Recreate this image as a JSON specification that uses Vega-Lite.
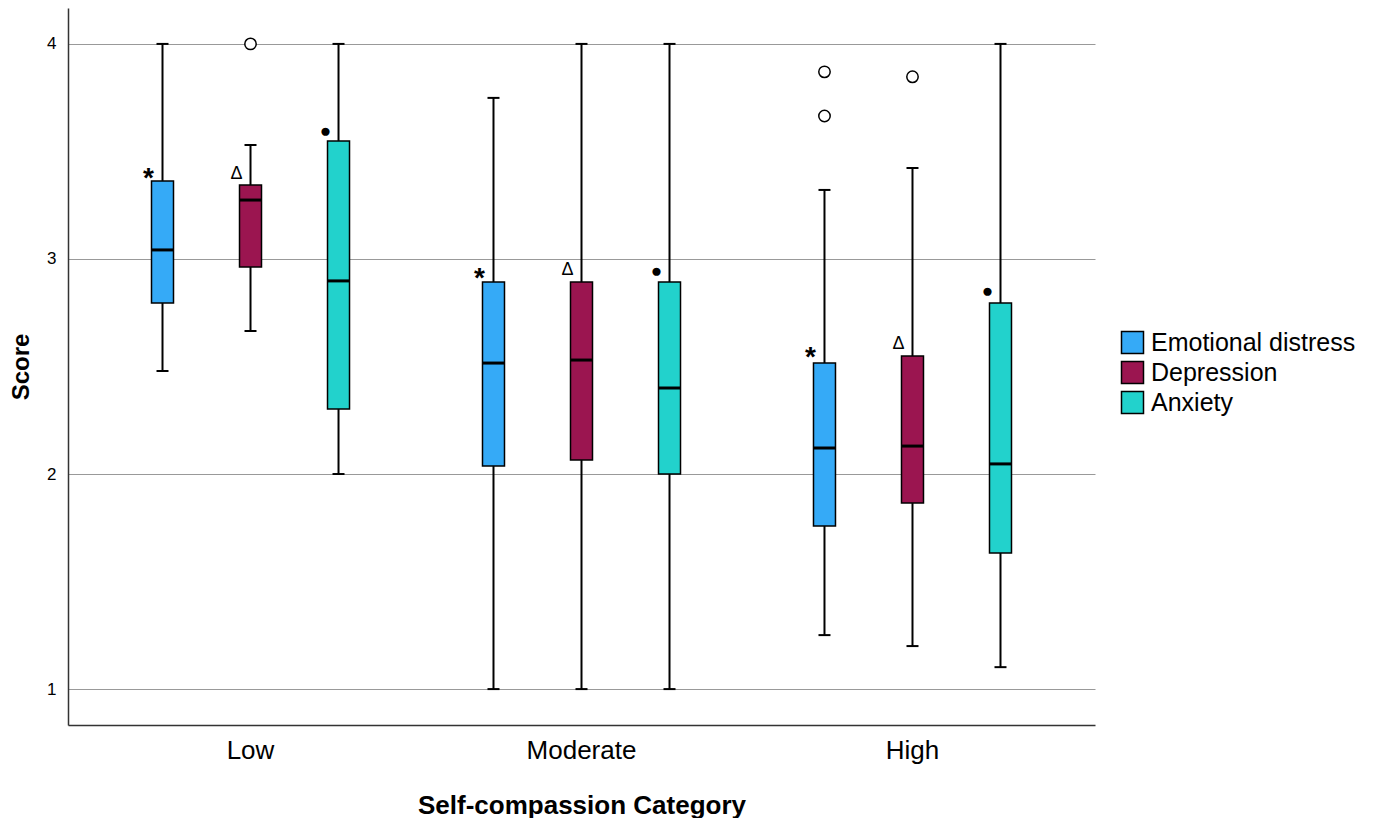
{
  "$schema": "https://vega.github.io/schema/vega-lite/v6.json",
  "width": 1027,
  "height": 717,
  "autosize": "none",
  "padding": {"left": 68, "top": 8, "right": 279, "bottom": 93},
  "background": "white",
  "config": {
    "view": {"stroke": null},
    "font": "Liberation Sans",
    "axis": {"labelColor": "black", "titleColor": "black"}
  },
  "datasets": {
    "boxes": [
      {"cat": "Low", "measure": "Emotional distress", "min": 2.479, "q1": 2.795, "median": 3.042, "q3": 3.363, "max": 4.0, "note": "*", "noteY": 3.41},
      {"cat": "Low", "measure": "Depression", "min": 2.665, "q1": 2.963, "median": 3.274, "q3": 3.344, "max": 3.53, "note": "Δ", "noteY": 3.40},
      {"cat": "Low", "measure": "Anxiety", "min": 2.0, "q1": 2.302, "median": 2.898, "q3": 3.549, "max": 4.0, "note": "●", "noteY": 3.60},
      {"cat": "Moderate", "measure": "Emotional distress", "min": 1.0, "q1": 2.037, "median": 2.516, "q3": 2.893, "max": 3.749, "note": "*", "noteY": 2.944},
      {"cat": "Moderate", "measure": "Depression", "min": 1.0, "q1": 2.065, "median": 2.53, "q3": 2.893, "max": 4.0, "note": "Δ", "noteY": 2.953},
      {"cat": "Moderate", "measure": "Anxiety", "min": 1.0, "q1": 2.0, "median": 2.40, "q3": 2.893, "max": 4.0, "note": "●", "noteY": 2.95},
      {"cat": "High", "measure": "Emotional distress", "min": 1.251, "q1": 1.758, "median": 2.121, "q3": 2.516, "max": 3.321, "note": "*", "noteY": 2.577},
      {"cat": "High", "measure": "Depression", "min": 1.20, "q1": 1.865, "median": 2.130, "q3": 2.549, "max": 3.423, "note": "Δ", "noteY": 2.61},
      {"cat": "High", "measure": "Anxiety", "min": 1.102, "q1": 1.633, "median": 2.047, "q3": 2.795, "max": 4.0, "note": "●", "noteY": 2.856}
    ],
    "outliers": [
      {"cat": "Low", "measure": "Depression", "value": 4.0},
      {"cat": "High", "measure": "Emotional distress", "value": 3.87},
      {"cat": "High", "measure": "Emotional distress", "value": 3.665},
      {"cat": "High", "measure": "Depression", "value": 3.847}
    ]
  },
  "encoding": {
    "x": {
      "field": "cat", "type": "nominal", "sort": ["Low", "Moderate", "High"],
      "scale": {"paddingInner": 0, "paddingOuter": 0.0514},
      "title": "Self-compassion Category",
      "axis": {
        "labelAngle": 0, "labelFontSize": 26, "labelPadding": 12, "ticks": false,
        "domainColor": "#333333", "domainWidth": 1.5,
        "titleFontSize": 26, "titleFontWeight": "bold", "titlePadding": 29
      }
    },
    "xOffset": {
      "field": "measure", "type": "nominal",
      "sort": ["Emotional distress", "Depression", "Anxiety"],
      "scale": {"paddingInner": 0.75, "paddingOuter": 0.7555}
    }
  },
  "layer": [
    {
      "data": {"name": "boxes"},
      "mark": {"type": "rule", "color": "black", "strokeWidth": 2},
      "encoding": {
        "y": {"field": "min", "type": "quantitative",
          "scale": {"domain": [0.833, 4.167], "nice": false, "zero": false},
          "title": "Score",
          "axis": {"values": [1, 2, 3, 4], "format": "d", "grid": true, "gridColor": "#999999", "gridWidth": 1.2,
            "ticks": false, "labelFontSize": 17, "labelPadding": 12,
            "domainColor": "#333333", "domainWidth": 1.5,
            "titleFontSize": 24, "titleFontWeight": "bold", "titlePadding": 13}},
        "y2": {"field": "q1"}
      }
    },
    {
      "data": {"name": "boxes"},
      "mark": {"type": "rule", "color": "black", "strokeWidth": 2},
      "encoding": {
        "y": {"field": "q3", "type": "quantitative"},
        "y2": {"field": "max"}
      }
    },
    {
      "data": {"name": "boxes"},
      "mark": {"type": "bar", "stroke": "black", "strokeWidth": 1.5, "opacity": 1},
      "encoding": {
        "y": {"field": "q1", "type": "quantitative"},
        "y2": {"field": "q3"},
        "color": {
          "field": "measure", "type": "nominal",
          "sort": ["Emotional distress", "Depression", "Anxiety"],
          "scale": {"domain": ["Emotional distress", "Depression", "Anxiety"], "range": ["#35AAF7", "#9B1550", "#22D2CC"]},
          "legend": {
            "title": null, "orient": "none", "legendX": 1052, "legendY": 322,
            "symbolType": "square", "symbolSize": 484, "symbolStrokeColor": "black", "symbolStrokeWidth": 1.5,
            "symbolOpacity": 1, "labelFontSize": 25, "labelColor": "black", "labelOffset": 6, "rowPadding": 1, "labelLimit": 400
          }
        }
      }
    },
    {
      "data": {"name": "boxes"},
      "mark": {"type": "tick", "orient": "horizontal", "color": "black", "size": 22, "thickness": 3, "opacity": 1},
      "encoding": {"y": {"field": "median", "type": "quantitative"}}
    },
    {
      "data": {"name": "boxes"},
      "mark": {"type": "tick", "orient": "horizontal", "color": "black", "size": 12, "thickness": 2, "opacity": 1},
      "encoding": {"y": {"field": "min", "type": "quantitative"}}
    },
    {
      "data": {"name": "boxes"},
      "mark": {"type": "tick", "orient": "horizontal", "color": "black", "size": 12, "thickness": 2, "opacity": 1},
      "encoding": {"y": {"field": "max", "type": "quantitative"}}
    },
    {
      "data": {"name": "outliers"},
      "mark": {"type": "point", "shape": "circle", "size": 130, "stroke": "black", "strokeWidth": 1.5, "fill": "white", "filled": false, "opacity": 1},
      "encoding": {"y": {"field": "value", "type": "quantitative"}}
    },
    {
      "data": {"name": "boxes"},
      "transform": [{"filter": "datum.note === '*'"}],
      "mark": {"type": "text", "fontSize": 28, "fontWeight": "bold", "dx": -14, "dy": 8, "color": "black"},
      "encoding": {"y": {"field": "noteY", "type": "quantitative"}, "text": {"field": "note"}}
    },
    {
      "data": {"name": "boxes"},
      "transform": [{"filter": "datum.note === 'Δ'"}],
      "mark": {"type": "text", "fontSize": 18, "dx": -14, "dy": 1, "color": "black"},
      "encoding": {"y": {"field": "noteY", "type": "quantitative"}, "text": {"field": "note"}}
    },
    {
      "data": {"name": "boxes"},
      "transform": [{"filter": "datum.note === '●'"}],
      "mark": {"type": "text", "fontSize": 19, "dx": -13, "dy": 1, "color": "black"},
      "encoding": {"y": {"field": "noteY", "type": "quantitative"}, "text": {"field": "note"}}
    }
  ]
}
